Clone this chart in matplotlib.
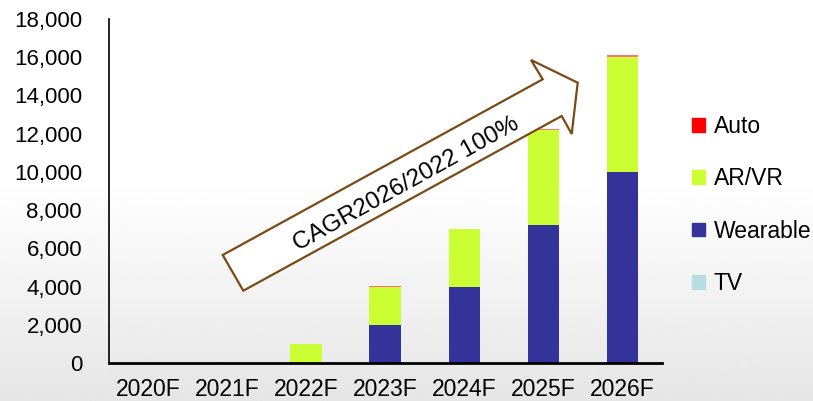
import matplotlib
matplotlib.use("Agg")
import matplotlib.pyplot as plt
from matplotlib.patches import Polygon, Patch
from matplotlib.ticker import FuncFormatter
import numpy as np

plt.rcParams['font.family'] = ['Liberation Sans', 'DejaVu Sans']

years = ['2020F', '2021F', '2022F', '2023F', '2024F', '2025F', '2026F']
tv = [0, 0, 0, 0, 0, 0, 0]
wearable = [0, 0, 0, 2000, 4000, 7200, 10000]
arvr = [0, 0, 1000, 2000, 3000, 5000, 6000]
auto = [0, 0, 20, 50, 20, 40, 100]

c_tv = '#b7dfe3'
c_wear = '#333399'
c_arvr = '#ccff33'
c_auto = '#ff0000'

W, H = 813, 401
fig = plt.figure(figsize=(W / 100, H / 100), dpi=100)

# soft grey gradient towards the bottom
bg = fig.add_axes([0, 0, 1, 1], zorder=-10)
g = np.ones((200, 1))
t = np.linspace(0, 1, 200)
g[:, 0] = np.where(t < 0.45, 1.0, 1.0 - 0.10 * ((t - 0.45) / 0.55))
bg.imshow(g, cmap='gray', vmin=0, vmax=1, aspect='auto', extent=[0, 1, 0, 1])
bg.axis('off')

ax = fig.add_axes([108.5 / W, 1 - 363 / H, (662 - 108.5) / W, (363 - 19) / H])
ax.set_facecolor('none')

x = np.arange(len(years))
bw = 0.4
b1 = np.array(tv)
b2 = b1 + np.array(wearable)
b3 = b2 + np.array(arvr)
ax.bar(x, tv, bw, color=c_tv)
ax.bar(x, wearable, bw, bottom=b1, color=c_wear)
ax.bar(x, arvr, bw, bottom=b2, color=c_arvr)
ax.bar(x, auto, bw, bottom=b3, color=c_auto, alpha=0.55)

ax.set_xlim(-0.5, len(years) - 0.5)
ax.set_ylim(0, 18000)
ax.set_yticks(np.arange(0, 18001, 2000))
ax.yaxis.set_major_formatter(FuncFormatter(lambda v, p: f'{int(v):,}'))
ax.set_xticks(x)
ax.set_xticklabels(years)
ax.tick_params(axis='y', length=0, pad=19, labelsize=16)
ax.tick_params(axis='x', length=0, pad=11, labelsize=16.5)
for s in ['top', 'right']:
    ax.spines[s].set_visible(False)
ax.spines['left'].set_linewidth(1.2)
ax.spines['bottom'].set_linewidth(2)

# big hollow CAGR arrow
pts = [(222.7, 255), (542.7, 79.3), (531, 60), (577.7, 82.7),
       (571.7, 134), (561.7, 116), (243.3, 290.7)]
arrow = Polygon([(px / W, 1 - py / H) for px, py in pts], closed=True,
                transform=fig.transFigure, facecolor='white',
                edgecolor='#7a4a14', linewidth=1.6, zorder=5)
fig.patches.append(arrow)
fig.text(406 / W, 1 - 184 / H, 'CAGR2026/2022 100%', rotation=29,
         ha='center', va='center', fontsize=17.5, zorder=6,
         rotation_mode='anchor')

handles = [Patch(color=c_auto), Patch(color=c_arvr),
           Patch(color=c_wear), Patch(color=c_tv)]
labels = ['Auto', 'AR/VR', 'Wearable', 'TV']
fig.legend(handles, labels, loc='center left',
           bbox_to_anchor=(683 / W, 1 - 205 / H), frameon=False,
           fontsize=16.5, handlelength=0.55, handleheight=0.55,
           handletextpad=0.4, labelspacing=1.28, borderaxespad=0)

fig.savefig('out.png', dpi=100)
